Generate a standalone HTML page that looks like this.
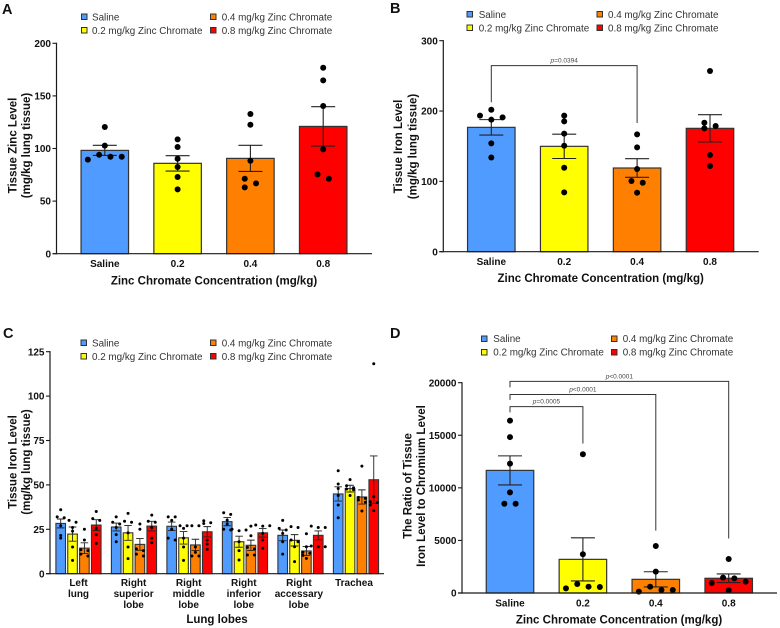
<!DOCTYPE html>
<html lang="en">
<head>
<meta charset="utf-8">
<title>Zinc chromate tissue metal levels</title>
<style>
html,body{margin:0;padding:0;background:#fff;width:780px;height:628px;overflow:hidden}
svg{display:block;font-family:"Liberation Sans",Arial,sans-serif}
.panel-letter{font-size:14.5px;font-weight:bold;fill:#111}
.legend-text{font-size:9.85px;fill:#333}
.axis-title{font-size:11.5px;font-weight:bold;fill:#111}
.y-title{font-size:11.5px;font-weight:bold;fill:#111;text-anchor:middle}
.tick-label{font-size:10px;font-weight:bold;fill:#111}
.p-label{font-size:6.5px;fill:#444;text-anchor:middle}
</style>
</head>
<body>
<svg id="figure" width="780" height="628" viewBox="0 0 780 628" xmlns="http://www.w3.org/2000/svg">
  <text class="panel-letter" x="2" y="14">A</text>
  <text class="panel-letter" x="390" y="13">B</text>
  <text class="panel-letter" x="3" y="338">C</text>
  <text class="panel-letter" x="390" y="338">D</text>

  <g>
    <rect x="81.5" y="14" width="5.5" height="5.5" fill="#4f9bff" stroke="#333"/>
    <text class="legend-text" x="92" y="20.5">Saline</text>
    <rect x="81.5" y="27.5" width="5.5" height="5.5" fill="#ffff00" stroke="#333"/>
    <text class="legend-text" x="92" y="34">0.2 mg/kg Zinc Chromate</text>
    <rect x="210.5" y="14" width="5.5" height="5.5" fill="#ff8000" stroke="#333"/>
    <text class="legend-text" x="221.7" y="20.5">0.4 mg/kg Zinc Chromate</text>
    <rect x="210.5" y="27.5" width="5.5" height="5.5" fill="#ff0000" stroke="#333"/>
    <text class="legend-text" x="221.7" y="34">0.8 mg/kg Zinc Chromate</text>
  </g>
  <g>
    <rect x="467" y="11.5" width="5.5" height="5.5" fill="#4f9bff" stroke="#333"/>
    <text class="legend-text" x="478.7" y="18">Saline</text>
    <rect x="467" y="25" width="5.5" height="5.5" fill="#ffff00" stroke="#333"/>
    <text class="legend-text" x="478.7" y="31.5">0.2 mg/kg Zinc Chromate</text>
    <rect x="597" y="11.5" width="5.5" height="5.5" fill="#ff8000" stroke="#333"/>
    <text class="legend-text" x="608" y="18">0.4 mg/kg Zinc Chromate</text>
    <rect x="597" y="25" width="5.5" height="5.5" fill="#ff0000" stroke="#333"/>
    <text class="legend-text" x="608" y="31.5">0.8 mg/kg Zinc Chromate</text>
  </g>
  <g>
    <rect x="81" y="340" width="5.5" height="5.5" fill="#4f9bff" stroke="#333"/>
    <text class="legend-text" x="92" y="346.5">Saline</text>
    <rect x="81" y="353.5" width="5.5" height="5.5" fill="#ffff00" stroke="#333"/>
    <text class="legend-text" x="92" y="360">0.2 mg/kg Zinc Chromate</text>
    <rect x="210.5" y="340" width="5.5" height="5.5" fill="#ff8000" stroke="#333"/>
    <text class="legend-text" x="221.7" y="346.5">0.4 mg/kg Zinc Chromate</text>
    <rect x="210.5" y="353.5" width="5.5" height="5.5" fill="#ff0000" stroke="#333"/>
    <text class="legend-text" x="221.7" y="360">0.8 mg/kg Zinc Chromate</text>
  </g>
  <g>
    <rect x="481.5" y="336" width="5.5" height="5.5" fill="#4f9bff" stroke="#333"/>
    <text class="legend-text" x="493.3" y="342">Saline</text>
    <rect x="481.5" y="349.5" width="5.5" height="5.5" fill="#ffff00" stroke="#333"/>
    <text class="legend-text" x="493.3" y="355.5">0.2 mg/kg Zinc Chromate</text>
    <rect x="611.5" y="336" width="5.5" height="5.5" fill="#ff8000" stroke="#333"/>
    <text class="legend-text" x="622.7" y="342">0.4 mg/kg Zinc Chromate</text>
    <rect x="611.5" y="349.5" width="5.5" height="5.5" fill="#ff0000" stroke="#333"/>
    <text class="legend-text" x="622.7" y="355.5">0.8 mg/kg Zinc Chromate</text>
  </g>

  <g>
    <text class="y-title" transform="translate(16.5,145.5) rotate(-90)">Tissue Zinc Level</text>
    <text class="y-title" transform="translate(30,145.5) rotate(-90)">(mg/kg lung tissue)</text>
  </g>
  <g>
    <text class="y-title" transform="translate(402,146.5) rotate(-90)">Tissue Iron Level</text>
    <text class="y-title" transform="translate(416.5,146.5) rotate(-90)">(mg/kg lung tissue)</text>
  </g>
  <g>
    <text class="y-title" transform="translate(16.5,462) rotate(-90)">Tissue Iron Level</text>
    <text class="y-title" transform="translate(30,462) rotate(-90)">(mg/kg lung tissue)</text>
  </g>
  <g>
    <text class="y-title" transform="translate(411.5,486) rotate(-90)">The Ratio of Tissue</text>
    <text class="y-title" transform="translate(425,486) rotate(-90)">Iron Level to Chromium Level</text>
  </g>

  <text class="axis-title" x="214" y="284.5" text-anchor="middle">Zinc Chromate Concentration (mg/kg)</text>
  <text class="axis-title" x="600.7" y="282" text-anchor="middle">Zinc Chromate Concentration (mg/kg)</text>
  <text class="axis-title" x="217" y="623" text-anchor="middle">Lung lobes</text>
  <text class="axis-title" x="619" y="623.3" text-anchor="middle">Zinc Chromate Concentration (mg/kg)</text>
</svg>

<script>
// ----- shared categories -----
const doseCategories = ['Saline', '0.2', '0.4', '0.8'];
const lobeCategories = [['Left', 'lung'], ['Right', 'superior', 'lobe'], ['Right', 'middle', 'lobe'], ['Right', 'inferior', 'lobe'], ['Right', 'accessary', 'lobe'], ['Trachea']];
const seriesColors = ['#4f9bff', '#ffff00', '#ff8000', '#ff0000'];

// ----- panel A: tissue zinc -----
const aTicks = [0, 50, 100, 150, 200];
const aMeans = [98.2, 85.9, 90.6, 121];
const aSems = [4.8, 7.3, 12.4, 18.7];
const aPoints = [
  [120.4, 102.7, 94, 92.2, 92.2, 89.4],
  [108.7, 101.4, 90.3, 82.4, 72.9, 61.2],
  [132.8, 122.6, 88.4, 71.3, 66.9, 63],
  [176.8, 164.8, 140.4, 99.2, 75.4, 71.3]
];

// ----- panel B: tissue iron -----
const bTicks = [0, 100, 200, 300];
const bMeans = [176.8, 149.8, 119, 175.4];
const bSems = [11, 17.3, 13.3, 19.4];
const bPoints = [
  [201.9, 193.4, 191, 187.7, 154, 134],
  [193.4, 185.3, 167.8, 150.7, 119.4, 84.4],
  [166.8, 148.3, 117.5, 100.5, 98.1, 83.9],
  [256.9, 183.4, 178.7, 175.4, 137.4, 121.8]
];
const bBracketPairs = [[0, 2]];
const bBracketLevels = [264.5];
const bBracketLeftEnds = [212.5];
const bBracketRightEnds = [183];
const bBracketLabels = ['=0.0394'];

// ----- panel C: iron per lobe (one row per lobe, one column per dose) -----
const cTicks = [0, 25, 50, 75, 100, 125];
const cMeans = [
  [28.3, 22.3, 14.4, 27.4],
  [26.3, 23, 16.5, 26.8],
  [26.7, 20.2, 16.2, 23.6],
  [29.3, 18, 16, 23],
  [21.6, 18.8, 12.8, 21.6],
  [44.9, 47.9, 43.2, 52.9]
];
const cSems = [
  [2.5, 4, 3, 3],
  [2.2, 4.2, 3.3, 2.7],
  [2.4, 3.5, 3.2, 2.9],
  [2.3, 3.1, 2.9, 2.4],
  [3, 3.2, 2.5, 2.5],
  [4, 1.9, 4, 13.4]
];
const cPoints = [
  [[36, 32, 31.5, 27, 21.5, 20], [30, 29, 26, 24, 15, 7.5], [25, 19, 13.5, 13, 11, 10], [35, 31, 30, 25.5, 22, 17]],
  [[32, 29, 28, 26, 22, 18], [34, 29.5, 29, 23, 15, 8.5], [28, 25, 14, 13, 11, 10], [33, 29.5, 29, 26, 20, 17.5]],
  [[32, 32, 30, 25, 20, 19], [27, 27, 25.5, 20, 15, 7.5], [27, 27, 15, 12, 10, 10], [29.8, 28.7, 28.3, 19, 16.7, 13.7]],
  [[34.3, 33.4, 30.2, 28, 25, 24.6], [25, 24.6, 24.2, 18, 13, 7.7], [26.8, 21.4, 14.8, 14, 10.5, 10.5], [27.4, 27, 26.8, 22.7, 19, 14.3]],
  [[30, 25.5, 24.6, 22.7, 18, 11], [26.5, 26, 19, 18, 15.2, 6.8], [22.5, 15.2, 12, 11.5, 10.3, 8.6], [26.8, 26, 26, 15.6, 15.2, 15.2]],
  [[58, 50.5, 48, 44, 38.7, 31.5], [53, 49.5, 48.4, 47.7, 47.3, 44], [60.6, 43, 42.4, 41.5, 40.2, 35.3], [118.2, 43.4, 40.5, 40, 38.7, 35.5]]
];

// ----- panel D: iron / chromium ratio -----
const dTicks = [0, 5000, 10000, 15000, 20000];
const dMeans = [11660, 3200, 1300, 1400];
const dSems = [1380, 2050, 720, 410];
const dPoints = [
  [16390, 14830, 12300, 9570, 8490, 8490],
  [13190, 3680, 860, 600, 570, 440],
  [4470, 2030, 600, 285, 285, 130],
  [3230, 1460, 1390, 1080, 950, 250]
];
const dBracketPairs = [[0, 1], [0, 2], [0, 3]];
const dBracketLevels = [17720, 18880, 20130];
const dBracketLeftEnds = [17180, 18370, 19550];
const dBracketRightEnds = [14220, 5930, 5180];
const dBracketLabels = ['=0.0005', '<0.0001', '<0.0001'];

const svg = document.getElementById('figure');
const NS = 'http://www.w3.org/2000/svg';

function node(parent, tag, attrs, text) {
  const el = document.createElementNS(NS, tag);
  for (const k in attrs) el.setAttribute(k, attrs[k]);
  if (text !== undefined) el.textContent = text;
  parent.appendChild(el);
  return el;
}

function linearY(y0Px, yMaxPx, maxValue) {
  return v => y0Px + (yMaxPx - y0Px) * v / maxValue;
}

// Offsets points sideways the way a scatter-dot plot bins close values.
function swarmOffsets(values, yScale, binPx, spacing) {
  const order = values.map((v, i) => i).sort((a, b) => values[b] - values[a]);
  const offsets = values.map(() => 0);
  const evenLanes = [-0.5, 0.5, 1.5, -1.5, 2.5, -2.5];
  const oddLanes = [-1, 1, 0, 2, -2];
  let i = 0;
  let prevLastY = null;
  while (i < order.length) {
    const startY = yScale(values[order[i]]);
    let j = i + 1;
    while (j < order.length && yScale(values[order[j]]) - startY < binPx) j++;
    const n = j - i;
    if (n === 1) {
      offsets[order[i]] = (prevLastY !== null && startY - prevLastY < binPx) ? -0.5 * spacing : 0;
    } else {
      const lanes = n % 2 === 0 ? evenLanes : oddLanes;
      for (let k = 0; k < n; k++) offsets[order[i + k]] = lanes[k % lanes.length] * spacing;
    }
    prevLastY = yScale(values[order[j - 1]]);
    i = j;
  }
  return offsets;
}

function drawAxes(g, opt, yScale) {
  const axisColor = '#1a1a1a';
  const yAxis = node(g, 'line', { x1: opt.axisX, x2: opt.axisX, y1: yScale(opt.ticks[opt.ticks.length - 1]) - 0.6, y2: yScale(0) + 0.6, stroke: axisColor, 'stroke-width': 1.2 });
  
  
  const xAxis = node(g, 'line', { x1: opt.axisX - 4, x2: opt.axisEnd, y1: yScale(0), y2: yScale(0), stroke: axisColor, 'stroke-width': 1.2 });
  
  
  opt.ticks.forEach(t => {
    const tick = node(g, 'line', { x1: opt.axisX - 4, x2: opt.axisX, y1: yScale(t), y2: yScale(t), stroke: axisColor, 'stroke-width': 1.1 });
    
    
    const label = node(g, 'text', { class: 'tick-label', x: opt.axisX - 5.5, y: yScale(t) + 3.6, 'text-anchor': 'end' }, String(t));
    
    
  });
}

function drawBarAt(g, cx, width, mean, sem, points, color, yScale, opt) {
  const top = yScale(mean);
  const bar = node(g, 'rect', { x: cx - width / 2, y: top, width: width, height: yScale(0) - top, fill: color, stroke: '#333', 'stroke-width': opt.barStroke });
  
  
  const errTop = yScale(mean + sem);
  const errBot = yScale(mean - sem);
  const err = node(g, 'path', {
    d: 'M' + cx + ' ' + errTop + 'V' + errBot +
       'M' + (cx - opt.cap) + ' ' + errTop + 'H' + (cx + opt.cap) +
       'M' + (cx - opt.cap) + ' ' + errBot + 'H' + (cx + opt.cap),
    fill: 'none', stroke: '#222', 'stroke-width': opt.errStroke
  });
  
  
  const offs = swarmOffsets(points, yScale, opt.binPx, opt.spacing);
  points.forEach((v, i) => {
    const dot = node(g, 'circle', { cx: cx + offs[i], cy: yScale(v), r: opt.dotR, fill: '#000' });
    
    
  });
}

function drawBrackets(g, centers, yScale, pairs, levels, leftEnds, rightEnds, labels) {
  pairs.forEach((pair, i) => {
    const x1 = centers[pair[0]];
    const x2 = centers[pair[1]];
    const y = yScale(levels[i]);
    const path = node(g, 'path', {
      d: 'M' + x1 + ' ' + yScale(leftEnds[i]) + 'V' + y + 'H' + x2 + 'V' + yScale(rightEnds[i]),
      fill: 'none', stroke: '#333', 'stroke-width': 1
    });
    
    
    const label = node(g, 'text', { class: 'p-label', x: (x1 + x2) / 2, y: y - 3 });
    
    
    node(label, 'tspan', { 'font-style': 'italic' }, 'p');
    node(label, 'tspan', {}, labels[i]);
  });
}

function drawDosePanel(name, opt) {
  const g = node(svg, 'g', {});
  
  
  const yScale = linearY(opt.y0, opt.yTop, opt.ticks[opt.ticks.length - 1]);
  const centers = doseCategories.map((c, i) => opt.firstCenter + i * opt.step);
  opt.means.forEach((m, i) => {
    drawBarAt(g, centers[i], 47.5, m, opt.sems[i], opt.points[i], seriesColors[i], yScale, {
      cap: 12, dotR: 3, binPx: 5.5, spacing: 11.3, barStroke: 1.2, errStroke: 1.1
    });
    const label = node(g, 'text', { class: 'tick-label', x: centers[i], y: opt.labelY, 'text-anchor': 'middle' }, doseCategories[i]);
    
    
  });
  drawAxes(g, opt, yScale);
  if (opt.brackets) {
    drawBrackets(g, centers, yScale, opt.brackets[0], opt.brackets[1], opt.brackets[2], opt.brackets[3], opt.brackets[4]);
  }
}

drawDosePanel('panel-a-chart', {
  y0: 253.7, yTop: 43.3, axisX: 56.5, axisEnd: 372, firstCenter: 104.8, step: 72.8, labelY: 267,
  ticks: aTicks, means: aMeans, sems: aSems, points: aPoints
});
drawDosePanel('panel-b-chart', {
  y0: 251.7, yTop: 40.7, axisX: 443.3, axisEnd: 758.7, firstCenter: 491.3, step: 72.9, labelY: 265,
  ticks: bTicks, means: bMeans, sems: bSems, points: bPoints,
  brackets: [bBracketPairs, bBracketLevels, bBracketLeftEnds, bBracketRightEnds, bBracketLabels]
});
drawDosePanel('panel-d-chart', {
  y0: 593, yTop: 382.7, axisX: 462, axisEnd: 777, firstCenter: 510, step: 72.9, labelY: 606.7,
  ticks: dTicks, means: dMeans, sems: dSems, points: dPoints,
  brackets: [dBracketPairs, dBracketLevels, dBracketLeftEnds, dBracketRightEnds, dBracketLabels]
});

// Panel C: grouped bars by lung lobe
(function () {
  const g = node(svg, 'g', {});
  
  
  const opt = { y0: 573.7, yTop: 351.7, axisX: 50, axisEnd: 384, ticks: cTicks };
  const yScale = linearY(opt.y0, opt.yTop, 125);
  lobeCategories.forEach((lines, gi) => {
    const start = 60.7 + gi * 55.5;
    cMeans[gi].forEach((m, si) => {
      drawBarAt(g, start + si * 11.85, 9.6, m, cSems[gi][si], cPoints[gi][si], seriesColors[si], yScale, {
        cap: 3.8, dotR: 1.5, binPx: 2.4, spacing: 7, barStroke: 1.1, errStroke: 0.9
      });
    });
    lines.forEach((line, li) => {
      const label = node(g, 'text', { class: 'tick-label', x: 78.5 + gi * 55.1, y: 586 + li * 11, 'text-anchor': 'middle' }, line);
      
      
    });
  });
  drawAxes(g, opt, yScale);
})();
</script>
</body>
</html>
